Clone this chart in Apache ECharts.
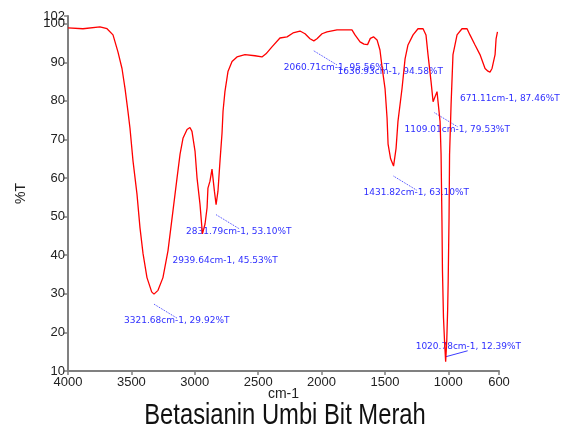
<!DOCTYPE html>
<html>
<head>
<meta charset="utf-8">
<script src="https://cdn.jsdelivr.net/npm/echarts@6/dist/echarts.min.js"></script>
<style>
  html, body { margin: 0; padding: 0; background: #fff; }
  #chart { width: 570px; height: 434px; }
</style>
</head>
<body>
<div id="chart"></div>
<script>
// FTIR spectrum: wavenumber (cm-1) and %T
const wavenumbers = [
  4000, 3882, 3748, 3692, 3645, 3606, 3574, 3550, 3527, 3511, 3487, 3456, 3432, 3408, 3377, 3340,
  3321.68, 3290, 3251, 3211, 3172, 3140, 3116, 3093, 3061, 3038, 3022, 2998, 2982, 2959,
  2939.64, 2919, 2903, 2896, 2880, 2864, 2856, 2845, 2831.79, 2817, 2801, 2785, 2777, 2762,
  2738, 2706, 2667, 2604, 2525, 2470, 2438, 2391, 2328, 2272, 2225, 2170, 2130, 2091,
  2060.71, 2036, 1996, 1957, 1878, 1799, 1760, 1736, 1696, 1665, 1636.93, 1615, 1590, 1562,
  1539, 1523, 1499, 1483, 1475, 1455, 1431.82, 1412, 1397, 1365, 1341, 1318, 1278, 1239,
  1199, 1176, 1160, 1136, 1120, 1109.01, 1089, 1081, 1065, 1057, 1050, 1046, 1038, 1030,
  1020.78, 1012, 1005, 1001, 994, 990, 978, 963, 931, 892, 852, 829, 789, 750, 710, 687,
  671.11, 655, 631, 623, 612
];
const transmittance = [
  98.9, 98.7, 99.2, 98.7, 97.1, 92.7, 88.4, 83.2, 77.3, 72.9, 64.4, 55.9, 47.1, 40.4, 34.2, 30.5,
  29.92, 30.9, 34.2, 41.2, 51.5, 60.0, 66.2, 70.3, 72.6, 73.1, 72.1, 67.0, 60.0, 53.3,
  45.53, 48.1, 52.3, 57.4, 59.2, 62.3, 61.8, 56.6, 53.10, 56.6, 64.4, 71.6, 77.3, 82.4,
  87.6, 90.2, 91.4, 92.0, 91.7, 91.4, 92.2, 94.0, 96.3, 96.6, 97.6, 98.1, 97.4, 96.1,
  95.56, 96.1, 97.4, 97.9, 98.4, 98.4, 98.4, 97.1, 95.3, 94.7, 94.58, 96.2, 96.6, 95.8,
  93.2, 88.9, 83.2, 75.5, 68.8, 65.0, 63.10, 67.7, 74.7, 83.2, 90.9, 94.5, 97.1, 98.7,
  98.7, 97.1, 92.0, 85.0, 79.8, 79.53, 82.4, 81.9, 74.7, 66.2, 48.9, 36.0, 23.9, 18.0,
  12.39, 18.0, 26.0, 33.0, 50.0, 66.0, 79.1, 92.0, 97.1, 98.7, 98.7, 97.1, 94.5, 92.0, 88.4, 87.7,
  87.46, 88.4, 92.0, 96.1, 97.9
];

// labelled peaks
const peakWn = [3321.68, 2939.64, 2831.79, 2060.71, 1636.93, 1431.82, 1109.01, 671.11, 1020.78];
const peakT = [29.92, 45.53, 53.10, 95.56, 94.58, 63.10, 79.53, 87.46, 12.39];
const peakHasLeader = [true, false, true, true, false, true, true, false, true];

const xTicks = [4000, 3500, 3000, 2500, 2000, 1500, 1000, 600];
const yTicks = [10, 20, 30, 40, 50, 60, 70, 80, 90, 100];
const yTopTick = [102];

const chart = echarts.init(document.getElementById('chart'));

const axisColor = '#808080';
const labelColor = '#222';
const plainNumber = v => String(v);

function yAxisWith(ticks, showLine) {
  return {
    type: 'value',
    min: 10,
    max: 102,
    position: 'left',
    name: showLine ? '%T' : '',
    nameLocation: 'middle',
    nameRotate: 90,
    nameGap: 40,
    nameTextStyle: { fontFamily: 'Liberation Sans', fontSize: 14, color: labelColor },
    axisLine: { show: showLine, lineStyle: { color: axisColor, width: 2 } },
    axisTick: { show: true, customValues: ticks, length: 4, lineStyle: { color: axisColor, width: 1.5 } },
    axisLabel: {
      customValues: ticks,
      formatter: plainNumber,
      hideOverlap: false,
      fontFamily: 'Liberation Sans',
      fontSize: 13,
      color: labelColor,
      margin: 3
    },
    splitLine: { show: false }
  };
}

chart.setOption({
  animation: false,
  grid: { left: 68, right: 71, top: 16, bottom: 63 },
  xAxis: {
    type: 'value',
    min: 600,
    max: 4000,
    inverse: true,
    name: 'cm-1',
    nameLocation: 'middle',
    nameGap: 16,
    nameMoveOverlap: false,
    nameTextStyle: { fontFamily: 'Liberation Sans', fontSize: 14, color: labelColor },
    axisLine: { lineStyle: { color: axisColor, width: 2 } },
    axisTick: { customValues: xTicks, length: 4, lineStyle: { color: axisColor, width: 1.5 } },
    axisLabel: {
      customValues: xTicks,
      formatter: plainNumber,
      hideOverlap: false,
      fontFamily: 'Liberation Sans',
      fontSize: 13,
      color: labelColor,
      margin: 5
    },
    splitLine: { show: false }
  },
  // second y axis only carries the 102 label that sits on top of 100
  yAxis: [yAxisWith(yTicks, true), yAxisWith(yTopTick, false)],
  series: [{
    type: 'line',
    yAxisIndex: 0,
    data: wavenumbers.map((w, i) => [w, transmittance[i]]),
    showSymbol: false,
    lineStyle: { color: '#ff0000', width: 1.3 },
    silent: true
  }]
});

// title and peak annotations placed relative to the peak's pixel position
function drawPeakLabels() {
  const graphics = [{
    type: 'text',
    silent: true,
    x: 285,
    y: 416,
    scaleX: 0.82,
    style: {
      text: 'Betasianin Umbi Bit Merah',
      x: 0,
      y: 0,
      align: 'center',
      verticalAlign: 'middle',
      fontFamily: 'Liberation Sans',
      fontSize: 29,
      fill: '#111'
    }
  }];
  peakWn.forEach((w, i) => {
    const [px, py] = chart.convertToPixel({ gridIndex: 0 }, [w, peakT[i]]);
    const below = peakT[i] > 20;
    const textY = below ? py + 27 : py - 15;
    graphics.push({
      type: 'text',
      silent: true,
      style: {
        text: `${w.toFixed(2)}cm-1, ${peakT[i].toFixed(2)}%T`,
        x: px - 30,
        y: textY,
        fill: '#2f2fff',
        fontFamily: 'DejaVu Sans',
        fontSize: 9,
        verticalAlign: 'middle'
      }
    });
    if (peakHasLeader[i]) {
      graphics.push({
        type: 'line',
        silent: true,
        shape: below
          ? { x1: px, y1: py + 10, x2: px + 23, y2: py + 24 }
          : { x1: px, y1: py - 5, x2: px + 22, y2: py - 11 },
        style: {
          stroke: '#3c3cff',
          lineWidth: 1,
          lineDash: below ? [1, 1] : null
        }
      });
    }
  });
  chart.setOption({ graphic: graphics });
}

drawPeakLabels();
</script>
</body>
</html>
